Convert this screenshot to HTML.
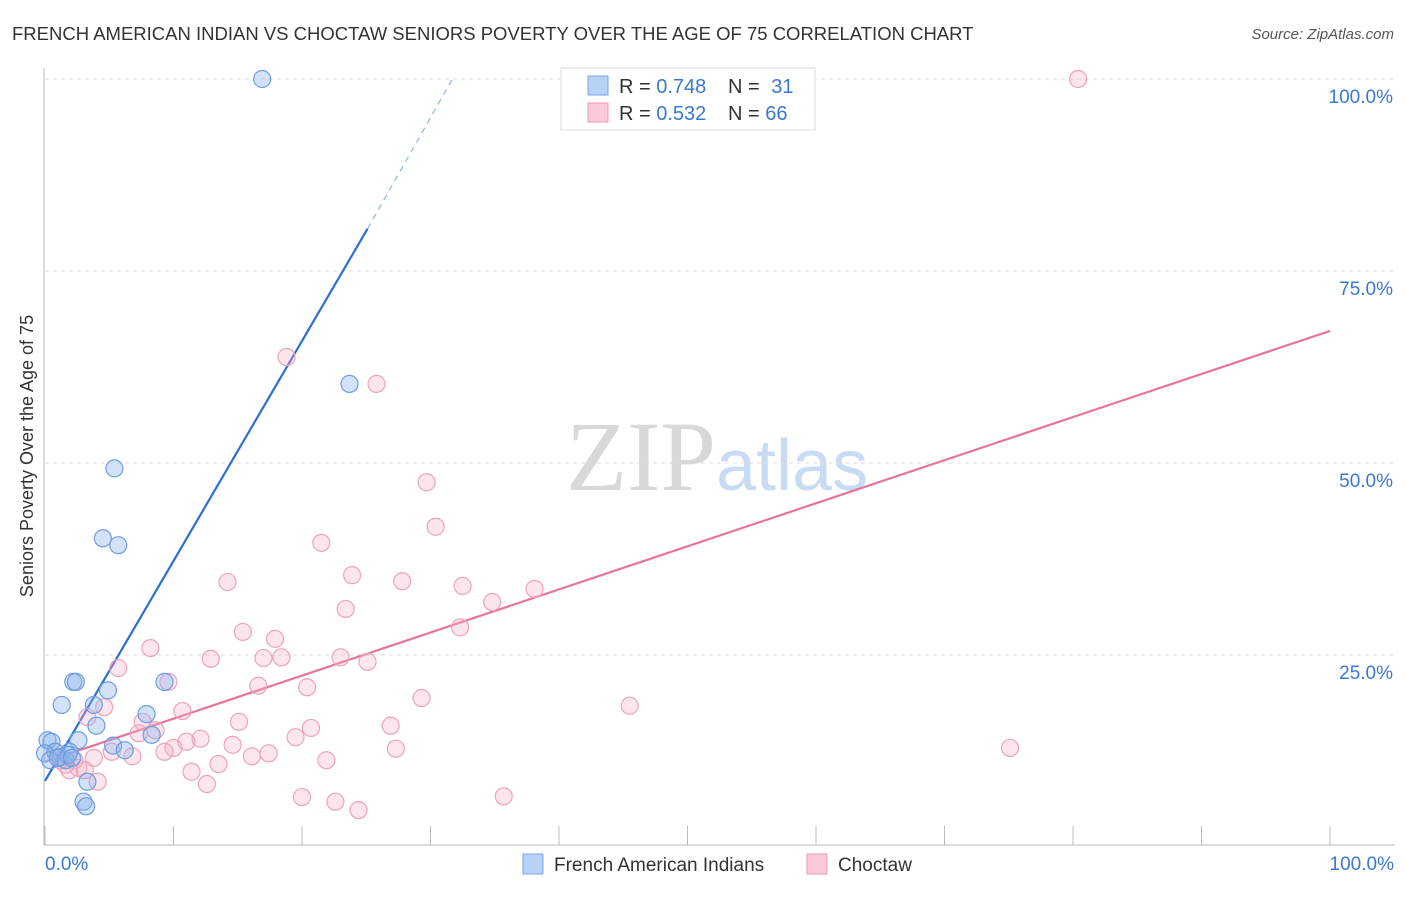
<!DOCTYPE html>
<html><head><meta charset="utf-8"><style>
body{margin:0;background:#fff;font-family:"Liberation Sans",sans-serif}
svg text{font-family:"Liberation Sans",sans-serif}
</style></head><body>
<svg id="c" width="1406" height="892">
<text x="12" y="40" font-size="18.5" fill="#333">FRENCH AMERICAN INDIAN VS CHOCTAW SENIORS POVERTY OVER THE AGE OF 75 CORRELATION CHART</text>
<text x="1394" y="39" font-size="15" fill="#555" font-style="italic" text-anchor="end">Source: ZipAtlas.com</text>
<text x="716" y="490" font-size="100" fill="#d8d8d8" text-anchor="end" style="font-family:'Liberation Serif',serif">ZIP</text>
<text x="716" y="490" font-size="72" fill="#c9dbf2">atlas</text>
<g id="grid"></g><g id="axes"></g><g id="lines"></g><g id="pts"></g>
<text x="33" y="456" font-size="18" fill="#333" text-anchor="middle" transform="rotate(-90 33 456)">Seniors Poverty Over the Age of 75</text>
<g>
<rect x="561" y="68" width="254" height="62" fill="#fff" stroke="#ddd"/>
<rect x="588" y="76" width="20" height="19" fill="#b8d2f5" stroke="#7aa6e6"/>
<rect x="588" y="103" width="20" height="19" fill="#fbc9d8" stroke="#ee9ab5"/>
<text x="619" y="93" font-size="20" fill="#333">R = <tspan fill="#3a78d4">0.748</tspan></text>
<text x="728" y="93" font-size="20" fill="#333">N = <tspan fill="#3a78d4" dx="6">31</tspan></text>
<text x="619" y="120" font-size="20" fill="#333">R = <tspan fill="#3a78d4">0.532</tspan></text>
<text x="728" y="120" font-size="20" fill="#333">N = <tspan fill="#3a78d4">66</tspan></text>
</g>
<g>
<rect x="523" y="854" width="20" height="20" fill="#b8d2f5" stroke="#7aa6e6"/>
<text x="554" y="871" font-size="19" fill="#333">French American Indians</text>
<rect x="807" y="854" width="20" height="20" fill="#fbc9d8" stroke="#ee9ab5"/>
<text x="838" y="871" font-size="19" fill="#333">Choctaw</text>
</g>
</svg>
<script>
const yTicks=[25,50,75,100];
const yTickLabels=["25.0%","50.0%","75.0%","100.0%"];
const xTickLabels=["0.0%","100.0%"];
const blueX=[16.9,23.7,5.4,4.5,5.7,2.2,2.4,1.3,4.9,3.8,4.0,9.3,7.9,8.3,5.3,6.2,2.6,1.9,0.2,0.5,0.8,1.2,1.6,1.8,3.3,3.0,3.2,0,0.4,1.0,2.1];
const blueY=[100,60.3,49.3,40.2,39.3,21.5,21.5,18.5,20.4,18.5,15.8,21.5,17.3,14.6,13.2,12.6,13.9,12.4,13.9,13.7,12.4,11.7,11.3,12.0,8.5,5.9,5.3,12.2,11.3,11.6,11.6];
const pinkX=[80.4,18.8,25.8,29.7,30.4,21.5,23.9,14.2,27.8,32.5,38.1,34.8,23.4,32.3,15.4,17.9,8.2,12.9,17.0,18.4,23.0,25.1,5.7,16.6,20.4,9.6,29.3,45.5,4.6,10.7,3.3,15.1,26.9,7.6,20.7,8.6,12.1,19.5,14.6,7.3,10.0,11.0,27.3,75.1,9.3,5.2,16.1,17.4,6.8,13.5,21.9,3.8,11.4,2.6,1.9,4.1,12.6,20.0,22.6,24.4,35.7,1.2,1.6,3.1,0.8,2.3];
const pinkY=[100,63.8,60.3,47.5,41.7,39.6,35.4,34.5,34.6,34.0,33.6,31.9,31.0,28.6,28.0,27.1,25.9,24.5,24.6,24.7,24.7,24.1,23.3,21.0,20.8,21.5,19.4,18.4,18.2,17.7,16.9,16.3,15.8,16.3,15.5,15.2,14.1,14.3,13.3,14.8,12.9,13.7,12.8,12.9,12.4,12.4,11.8,12.2,11.8,10.8,11.3,11.6,9.8,10.3,10.0,8.5,8.2,6.5,5.9,4.8,6.6,11.3,10.7,10.0,12.4,11.3];
const blueLine=[0,8.6,25.1,80.5,31.7,100];
const pinkLine=[0,11.1,100,67.2];
const NS="http://www.w3.org/2000/svg";
const X=v=>45+v*12.85, Y=v=>847-v*7.68;
function mk(tag,parent,attrs){const e=document.createElementNS(NS,tag);for(const k in attrs)e.setAttribute(k,attrs[k]);document.getElementById(parent).appendChild(e);return e;}
yTicks.forEach((t,i)=>{
 let g=mk('line','grid',{x1:45,x2:1395,y1:Y(t),y2:Y(t),stroke:'#ddd','stroke-dasharray':'4 4'});
 
 
 let l=mk('text','axes',{x:1393,y:Y(t)+24,'font-size':19,fill:'#3a78d4','text-anchor':'end'});l.textContent=yTickLabels[i];
 
 
});
let ax=mk('line','axes',{x1:44,x2:44,y1:68,y2:845,stroke:'#bbb'});


let bx=mk('line','axes',{x1:44,x2:1395,y1:845,y2:845,stroke:'#bbb'});


for(let i=0;i<=10;i++){let t=mk('line','axes',{x1:X(i*10),x2:X(i*10),y1:826,y2:845,stroke:'#bbb'});
 
 }
[[0,'start',45],[100,'end',1394]].forEach((d,i)=>{let t=mk('text','axes',{x:d[2],y:870,'font-size':19,fill:'#3a78d4','text-anchor':d[1]});t.textContent=xTickLabels[i];
 
 });
function pts(xs,ys,fill,stroke,name){xs.forEach((x,i)=>{let c=mk('circle','pts',{cx:X(x),cy:Y(ys[i]),r:8.5,fill:fill,stroke:stroke,'stroke-width':1.2});
 
 });}
pts(pinkX,pinkY,'rgba(246,175,198,0.32)','#eda3ba','choctaw-point');
pts(blueX,blueY,'rgba(140,180,236,0.38)','#6d9edf','french-american-indian-point');
let b1=mk('line','lines',{x1:X(blueLine[0]),y1:Y(blueLine[1]),x2:X(blueLine[2]),y2:Y(blueLine[3]),stroke:'#2a6fd6','stroke-width':2.2});


let b2=mk('line','lines',{x1:X(blueLine[2]),y1:Y(blueLine[3]),x2:X(blueLine[4]),y2:Y(blueLine[5]),stroke:'#8fb3e8','stroke-width':1.2,'stroke-dasharray':'6 5'});


let p1=mk('line','lines',{x1:X(pinkLine[0]),y1:Y(pinkLine[1]),x2:X(pinkLine[2]),y2:Y(pinkLine[3]),stroke:'#e8739b','stroke-width':2.2});


</script>
</body></html>
